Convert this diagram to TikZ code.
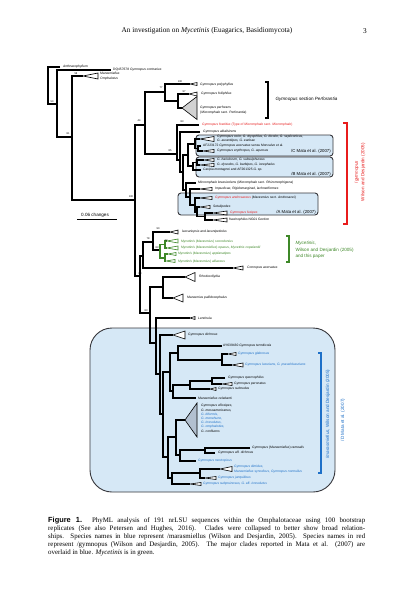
\documentclass[tikz,border=0pt]{standalone}
\usepackage{fontspec}
\setmainfont{Liberation Serif}
\newfontfamily\treefont{Liberation Sans}
\definecolor{boxblue}{RGB}{214,232,246}
\definecolor{boxline}{RGB}{55,55,60}
\definecolor{txtblue}{RGB}{30,112,200}
\definecolor{txtred}{RGB}{232,28,28}
\definecolor{txtgreen}{RGB}{62,136,40}
\definecolor{tribig}{RGB}{178,192,208}
\newcommand{\headfont}{\fontsize{7.3}{8}\selectfont}
\newcommand{\capfont}{\fontsize{6.9}{8}\selectfont}
\newcommand{\tipfont}{\treefont\fontsize{3.3}{3.8}\selectfont}
\newcommand{\bsfont}{\treefont\fontsize{2.6}{3}\selectfont}
\newcommand{\cladefont}{\treefont\fontsize{4.6}{6.5}\selectfont}
\newcommand{\matafont}{\treefont\fontsize{4.3}{5}\selectfont}
% collapsed clade: apex, length, half height
\newcommand{\coll}[4][]{\draw[clade,#1] (#2) -- ([shift={(#3,-#4)}]#2) -- ([shift={(#3,#4)}]#2) -- cycle;}

\begin{document}
\begin{tikzpicture}[x=1pt,y=-1pt,
    br/.style={line width=1.25pt},
    grbr/.style={line width=1.25pt, draw=txtgreen},
    clade/.style={draw, line width=0.6pt, fill=white},
    tip/.style={anchor=west, inner sep=0pt, font=\tipfont},
    bs/.style={inner sep=0pt, font=\bsfont},
    matabox/.style={draw=boxline, fill=boxblue, line width=0.9pt, rounded corners=3pt},
    matalabel/.style={anchor=east, inner sep=0pt, font=\matafont},
    brk/.style={line width=1.1pt},
    capline/.style={anchor=base west, inner sep=0pt, font=\capfont}]

    \fill[white] (0,0) rectangle (413,600);
    \useasboundingbox (0,0) rectangle (413,600);

    \node[font=\headfont] (head) at (207,31) {An investigation on \textit{Mycetinis} (Euagarics, Basidiomycota)};
    \node[font=\headfont] (pageno) at (365,31) {3};

    % clades of Mata et al.
    \draw[matabox] (196,135) rectangle (333,156);
    \draw[matabox] (196,157) rectangle (333,177);
    \draw[matabox] (178,193) rectangle (318,215);
    \draw[matabox, rounded corners=22pt] (90,328) rectangle (335,492);

    % tree nodes
    \coordinate (r0) at (48,86);
    \coordinate (t1) at (60,67);
    \coordinate (n1) at (57,104);
    \coordinate (t2) at (111,70);
    \coordinate (n2) at (72,137);
    \coordinate (t3) at (83,76);
    \coordinate (n3) at (135,200);
    \coordinate (n4) at (145,125);
    \coordinate (p1) at (165,92);
    \coordinate (t4) at (190,84);
    \coordinate (p2) at (178,101);
    \coordinate (t5) at (189,94);
    \coordinate (t6) at (182,108);
    \coordinate (n7) at (177,154);
    \coordinate (t7) at (199,125);
    \coordinate (g1) at (180,160);
    \coordinate (t8) at (200,132);
    \coordinate (g4) at (183,172);
    \coordinate (g3) at (188,155);
    \coordinate (c1) at (195,144);
    \coordinate (t9) at (200,139);
    \coordinate (c2) at (198,148.5);
    \coordinate (t10) at (201,146);
    \coordinate (t11) at (203,151);
    \coordinate (b1) at (193,166);
    \coordinate (b2) at (197,162.5);
    \coordinate (t12) at (204,160);
    \coordinate (t13) at (200,165);
    \coordinate (t14) at (201,170);
    \coordinate (g7) at (186,190);
    \coordinate (t15) at (196,183);
    \coordinate (g6) at (190,197);
    \coordinate (t16) at (200,189);
    \coordinate (a1) at (195,205);
    \coordinate (t17) at (200,198);
    \coordinate (a2) at (197,212);
    \coordinate (t18) at (200,207);
    \coordinate (a3) at (205,216.5);
    \coordinate (t19) at (213,213);
    \coordinate (t20) at (213,220);

    \coordinate (m1) at (140,276);
    \coordinate (mm2) at (143,256);
    \coordinate (mm1) at (153,242);
    \coordinate (t21) at (170,232);
    \coordinate (gr2) at (160,250);
    \coordinate (gr1) at (165,244.5);
    \coordinate (t22) at (167,241);
    \coordinate (t23) at (167,248);
    \coordinate (gr3) at (165,258);
    \coordinate (t24) at (168,254);
    \coordinate (t25) at (166,261);
    \coordinate (t26) at (233,268);
    \coordinate (m3) at (150,313);
    \coordinate (m4) at (163,287);
    \coordinate (t27) at (185,277);
    \coordinate (t28) at (173,298);
    \coordinate (m5) at (156,343);
    \coordinate (t29) at (190,318);
    \coordinate (bx1) at (160,374);
    \coordinate (t30) at (173,335);
    \coordinate (bx2) at (163,414);
    \coordinate (bx3) at (170,372);
    \coordinate (bx6) at (178,353);
    \coordinate (t31) at (222,346);
    \coordinate (gl) at (222,360);
    \coordinate (t32) at (228,354);
    \coordinate (t33) at (232,365);
    \coordinate (bx7) at (173,391);
    \coordinate (q1) at (190,385);
    \coordinate (q2) at (212,381);
    \coordinate (t34) at (225,378);
    \coordinate (t35) at (222,384);
    \coordinate (t36) at (210,389);
    \coordinate (t37) at (196,398);
    \coordinate (bx4) at (168,457);
    \coordinate (bg) at (176,437);
    \coordinate (t38) at (185,420);
    \coordinate (r1) at (180,455);
    \coordinate (r2) at (205,450);
    \coordinate (t39) at (250,448);
    \coordinate (t40) at (215,453);
    \coordinate (t41) at (196,461);
    \coordinate (bl) at (172,478);
    \coordinate (d1) at (200,473);
    \coordinate (t42) at (220,469);
    \coordinate (t43) at (205,478);
    \coordinate (t44) at (190,484);

    % branches
    \draw[br] (t1) -| (r0) |- (n1);
    \draw[br] (t2) -| (n1) |- (n2);
    \draw[br] (t3) -| (n2) |- (n3);
    \draw[br] (n4) -| (n3) |- (m1);
    \draw[br] (p1) -| (n4) |- (n7);
    \draw[br] (t4) -| (p1) |- (p2);
    \draw[br] (t5) -| (p2) |- (t6);
    \draw[br] (t7) -| (n7) |- (g1);
    \draw[br] (t8) -| (g1) |- (g4);
    \draw[br] (g3) -| (g4) |- (g7);
    \draw[br] (c1) -| (g3) |- (b1);
    \draw[br] (t9) -| (c1) |- (c2);
    \draw[br] (t10) -| (c2) |- (t11);
    \draw[br] (b2) -| (b1) |- (t14);
    \draw[br] (t12) -| (b2) |- (t13);
    \draw[br] (t15) -| (g7) |- (g6);
    \draw[br] (t16) -| (g6) |- (a1);
    \draw[br] (t17) -| (a1) |- (a2);
    \draw[br] (t18) -| (a2) |- (a3);
    \draw[br] (t19) -| (a3) |- (t20);

    \draw[br] (mm2) -| (m1) |- (m3);
    \draw[br] (mm1) -| (mm2) |- (t26);
    \draw[br] (t21) -| (mm1) |- (gr2);
    \draw[grbr] (gr1) -| (gr2) |- (gr3);
    \draw[grbr] (t22) -| (gr1) |- (t23);
    \draw[grbr] (t24) -| (gr3) |- (t25);
    \draw[br] (m4) -| (m3) |- (m5);
    \draw[br] (t27) -| (m4) |- (t28);
    \draw[br] (t29) -| (m5) |- (bx1);
    \draw[br] (t30) -| (bx1) |- (bx2);
    \draw[br] (bx3) -| (bx2) |- (bx4);
    \draw[br] (bx6) -| (bx3) |- (bx7);
    \draw[br] (t31) -| (bx6) |- (gl);
    \draw[br] (t32) -| (gl) |- (t33);
    \draw[br] (q1) -| (bx7) |- (t37);
    \draw[br] (q2) -| (q1) |- (t36);
    \draw[br] (t34) -| (q2) |- (t35);
    \draw[br] (bg) -| (bx4) |- (bl);
    \draw[br] (t38) -| (bg) |- (r1);
    \draw[br] (r2) -| (r1) |- (t41);
    \draw[br] (t39) -| (r2) |- (t40);
    \draw[br] (d1) -| (bl) |- (t44);
    \draw[br] (t42) -| (d1) |- (t43);

    % collapsed clades
    \coll{t3}{15}{3}
    \coll{t4}{7}{1.5}
    \coll{t5}{8}{2}
    \coll[fill=gray!35]{t6}{15}{11.5}
    \coll{t9}{14}{2.5}
    \coll{t11}{11}{1.5}
    \coll{t12}{10}{1.5}
    \coll{t13}{14}{1.5}
    \coll{t16}{12}{1.5}
    \coll{t17}{12}{1.5}
    \coll{t18}{10}{1.5}
    \coll{t19}{14}{2}
    \coll{t20}{14}{2}
    \coll{t21}{8}{2}
    \coll[draw=txtgreen]{t22}{11}{2}
    \coll[draw=txtgreen]{t23}{11}{2}
    \coll[draw=txtgreen]{t24}{8}{1.5}
    \coll[draw=txtgreen]{t25}{9}{1.5}
    \coll{t26}{10}{2}
    \coll{t27}{10}{4.5}
    \coll{t28}{10}{4}
    \coll{t29}{5}{1.5}
    \coll{t30}{12}{4}
    \coll{t32}{8}{1.5}
    \coll{t33}{11}{2}
    \coll{t35}{10}{1.5}
    \coll{t36}{6}{1.5}
    \coll[fill=tribig]{t38}{12}{17}
    \coll{t42}{12}{2.5}
    \coll{t43}{11}{1.5}
    \coll{t44}{11}{1.5}

    % taxa
    \node[tip] (l1) at (63,67) {\textit{Anthracophyllum}};
    \node[tip] (l2) at (113,70) {DQ457678 \textit{Gymnopus contrarius}};
    \node[tip] (l3a) at (100,73.8) {\textit{Marasmiellus}};
    \node[tip] (l3b) at (100,78.2) {\textit{Omphalotus}};
    \node[tip] (l4) at (200,85) {\textit{Gymnopus polyphyllus}};
    \node[tip] (l5) at (201,94) {\textit{Gymnopus foliiphilus}};
    \node[tip] (l6a) at (200,108) {\textit{Gymnopus perforans}};
    \node[tip] (l6b) at (200,112.5) {(\textit{Micromphale} sect. \textit{Perforantia})};
    \node[tip, text=txtred] (l7) at (202,125) {\textit{Gymnopus foetidus} (Type of \textit{Micromphale} sect. \textit{Micromphale})};
    \node[tip] (l8) at (203,132) {\textit{Gymnopus alkalivirens}};
    \node[tip] (l9a) at (217,137) {\textit{Gymnopus ocior, G. dryophilus, G. bicolor, G. sepiiconicus,}};
    \node[tip] (l9b) at (217,141) {\textit{G. aurantiipes, G. earleae}};
    \node[tip] (l10) at (203,146) {AF223172 \textit{Gymnopus acervatus} sensu Moncalvo et al.};
    \node[tip] (l11) at (217,151) {\textit{Gymnopus erythropus, G. aquosus}};
    \node[tip] (l12) at (217,160) {\textit{G. hariolorum, G. subsulphureus}};
    \node[tip] (l13) at (217,165) {\textit{G. dysodes, G. barbipes, G. iocephalus}};
    \node[tip] (l14) at (203,170) {\textit{Caripia montagnei} and AF261325 \textit{G.} sp.};
    \node[tip] (l15) at (198,183) {\textit{Micromphale brassicolens} (\textit{Micromphale} sect. \textit{Rhizomorphigena})};
    \node[tip] (l16) at (215,189) {\textit{Impudicae, Rigidomarginati, lachnetiformes}};
    \node[tip] (l17) at (215,198) {\textcolor{txtred}{\textit{Gymnopus androsaceus}} (\textit{Marasmius} sect. \textit{Androsacei})};
    \node[tip] (l18) at (213,207) {\textit{Setulipedes}};
    \node[tip, text=txtred] (l19) at (230,213) {\textit{Gymnopus fusipes}};
    \node[tip] (l20) at (229,220) {\textit{fraxinophilus} NG01 Gordon};
    \node[tip] (l21) at (182,232) {\textit{laccariopsis} and \textit{lacunipetiolus}};
    \node[tip, text=txtgreen] (l22) at (181,242) {\textit{Mycetinis} (\textit{Marasmius}) \textit{scorodonius}};
    \node[tip, text=txtgreen] (l23) at (181,248) {\textit{Mycetinis} (\textit{Marasmiellus}) \textit{opacus}, \textit{Mycetinis copelandii}};
    \node[tip, text=txtgreen] (l24) at (178,254) {\textit{Mycetinis} (\textit{Marasmius}) \textit{applanatipes}};
    \node[tip, text=txtgreen] (l25) at (178,261.5) {\textit{Mycetinis} (\textit{Marasmius}) \textit{alliaceus}};
    \node[tip] (l26) at (247,268) {\textit{Connopus acervatus}};
    \node[tip] (l27) at (199,277) {\textit{Rhodocollybia}};
    \node[tip] (l28) at (187,298) {\textit{Marasmius pallidocephalus}};
    \node[tip] (l29) at (198,318) {\textit{Lentinula}};
    \node[tip] (l30) at (188,335) {\textit{Gymnopus dichrous}};
    \node[tip] (l31) at (223,346) {AY639430 \textit{Gymnopus termiticola}};
    \node[tip, text=txtblue] (l32) at (238,354) {\textit{Gymnopus glabrosus}};
    \node[tip, text=txtblue] (l33) at (245,365) {\textit{Gymnopus luxurians, G. pseudoluxurians}};
    \node[tip] (l34) at (228,378) {\textit{Gymnopus quercophilus}};
    \node[tip] (l35) at (234,384) {\textit{Gymnopus peronatus}};
    \node[tip] (l36) at (218,389) {\textit{Gymnopus subnudus}};
    \node[tip] (l37) at (198,398) {\textit{Marasmiellus celebanti}};
    \node[tip] (l38a) at (201,406) {\textit{Gymnopus villosipes,}};
    \node[tip] (l38b) at (201,410.2) {\textit{G. mesoamericanus,}};
    \node[tip, text=txtblue] (l38c) at (201,414.4) {\textit{G. biformis,}};
    \node[tip, text=txtblue] (l38d) at (201,418.6) {\textit{G. menehune,}};
    \node[tip, text=txtblue] (l38e) at (201,422.8) {\textit{G. irresolutus,}};
    \node[tip, text=txtblue] (l38f) at (201,427) {\textit{G. omphalodes,}};
    \node[tip] (l38g) at (201,431.2) {\textit{G. confluens}};
    \node[tip] (l39) at (252,448) {\textit{Gymnopus} (\textit{Marasmiellus}) \textit{ramealis}};
    \node[tip] (l40) at (218,453) {\textit{Gymnopus} aff. \textit{dichrous}};
    \node[tip, text=txtblue] (l41) at (198,461) {\textit{Gymnopus neotropicus}};
    \node[tip, text=txtblue] (l42a) at (234,467) {\textit{Gymnopus dimidus,}};
    \node[tip, text=txtblue] (l42b) at (234,471.5) {\textit{Marasmiellus synodicus, Gymnopus nonnullus}};
    \node[tip, text=txtblue] (l43) at (218,478) {\textit{Gymnopus junquilleus}};
    \node[tip, text=txtblue] (l44) at (203,484) {\textit{Gymnopus subpruinosus, G.} aff. \textit{irresolutus}};

    % bootstrap values
    \node[bs] (bs1) at (52,102) {50};
    \node[bs] (bs2) at (76,74) {58};
    \node[bs] (bs3) at (68,134) {81};
    \node[bs] (bs4) at (139,121) {44};
    \node[bs] (bs5) at (161,88) {77};
    \node[bs] (bs6) at (180,82) {100};
    \node[bs] (bs7) at (184,92) {97};
    \node[bs] (bs8) at (182,122) {83};
    \node[bs] (bs9) at (170,151) {85};
    \node[bs] (bs10) at (131,197) {100};
    \node[bs] (bs11) at (158,229) {90};
    \node[bs] (bs12) at (148,239) {78};
    \node[bs] (bs13) at (166,241) {73};
    \node[bs] (bs14) at (157,248) {83};
    \node[bs] (bs15) at (140,274) {80};
    \node[bs] (bs16) at (146,311) {83};

    \node[matalabel] (mC) at (331,151.5) {/C Mata et al. (2007)};
    \node[matalabel] (mB) at (331,174) {/B Mata et al. (2007)};
    \node[matalabel] (mA) at (316,212.5) {/A Mata et al. (2007)};

    % brackets
    \draw[brk] (265,82) -- (268,82) -- (268,118) -- (265,118);
    \node[anchor=west, font=\cladefont] (perf) at (272,99) {\textit{Gymnopus} section \textit{Perforantia}};
    \draw[brk, txtred] (343,123) -- (347,123) -- (347,224) -- (343,224);
    \node[rotate=90, align=center, text=txtred, font=\cladefont] (gymn) at (360,172) {/\textit{gymnopus}\\Wilson and Desjardin (2005)};
    \draw[brk, txtgreen] (286,236) -- (289,236) -- (289,262) -- (286,262);
    \node[anchor=west, align=left, text=txtgreen, font=\cladefont] (myc) at (292,250) {\textit{Mycetinis},\\Wilson and Desjardin (2005)\\and this paper};
    \draw[brk, txtblue] (318,353) -- (321,353) -- (321,473) -- (318,473);
    \node[rotate=90, text=txtblue, font=\cladefont] (mara) at (328,414) {/\textit{marasmiellus}, Wilson and Desjardin (2005)};
    \node[rotate=90, text=txtblue, font=\cladefont] (cladeD) at (343,420) {/D Mata et al. (2007)};

    % scale
    \coordinate (s0) at (77,219);
    \coordinate (s1) at (117,219);
    \draw[line width=0.7pt] (s0) -- (s1);
    \node[font=\cladefont, inner sep=0pt] (scale) at (95,215) {0.06 changes};

    % caption
    \node[capline] (cap1) at (48,522) {\makebox[317pt][s]{{\treefont\bfseries\fontsize{7.4}{8}\selectfont Figure 1.} PhyML analysis of 191 nrLSU sequences within the Omphalotaceae using 100 bootstrap}};
    \node[capline] (cap2) at (48,530.2) {\makebox[317pt][s]{replicates (See also Petersen and Hughes, 2016). Clades were collapsed to better show broad relation-}};
    \node[capline] (cap3) at (48,538.4) {\makebox[317pt][s]{ships. Species names in blue represent /marasmiellus (Wilson and Desjardin, 2005). Species names in red}};
    \node[capline] (cap4) at (48,546.6) {\makebox[317pt][s]{represent /gymnopus (Wilson and Desjardin, 2005). The major clades reported in Mata et al. (2007) are}};
    \node[capline] (cap5) at (48,554.8) {overlaid in blue. \textit{Mycetinis} is in green.};

\end{tikzpicture}
\end{document}
